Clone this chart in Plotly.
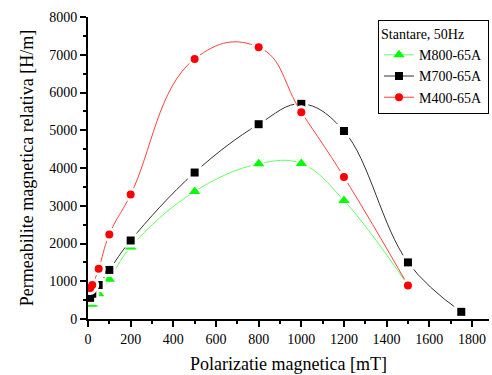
import plotly.graph_objects as go

# Polarization [mT] and relative permeability for three lamination grades
j_m800 = [10, 20, 50, 100, 200, 500, 800, 1000, 1200, 1500]
mu_m800 = [400, 400, 670, 1050, 1910, 3380, 4110, 4120, 3140, 890]

j_m700 = [10, 20, 50, 100, 200, 500, 800, 1000, 1200, 1500, 1750]
mu_m700 = [560, 670, 900, 1300, 2080, 3880, 5160, 5700, 4980, 1500, 190]

j_m400 = [10, 20, 50, 100, 200, 500, 800, 1000, 1200, 1500]
mu_m400 = [820, 900, 1330, 2240, 3300, 6890, 7200, 5480, 3760, 890]

series = [
    ("M800-65A", j_m800, mu_m800, "#00ff00", "#66ff66", "triangle-up", 10, 1.1),
    ("M700-65A", j_m700, mu_m700, "#000000", "#333333", "square", 8, 1.1),
    ("M400-65A", j_m400, mu_m400, "#ff0000", "#ff4040", "circle", 8, 1.3),
]

FONT = "Liberation Serif, Times New Roman, serif"

fig = go.Figure()

for name, xs, ys, col, lcol, sym, size, smooth in series:
    # smooth connecting curve
    fig.add_trace(go.Scatter(
        x=xs, y=ys, mode="lines",
        line=dict(color=lcol, width=1, shape="spline", smoothing=smooth),
        showlegend=False, hoverinfo="skip"))
    # white halo leaves a small gap between curve and symbol
    fig.add_trace(go.Scatter(
        x=xs, y=ys, mode="markers",
        marker=dict(color="white", size=size + 6, symbol=sym),
        showlegend=False, hoverinfo="skip"))
    fig.add_trace(go.Scatter(
        x=xs, y=ys, mode="markers", name=name,
        marker=dict(color=col, size=size, symbol=sym),
        showlegend=False))

# legend entries showing both line and symbol
for name, xs, ys, col, lcol, sym, size, smooth in series:
    fig.add_trace(go.Scatter(
        x=[None], y=[None], mode="lines+markers", name=name,
        line=dict(color=lcol, width=1),
        marker=dict(color=col, size=size, symbol=sym)))

axis_common = dict(
    showline=True, linecolor="black", linewidth=2,
    ticks="outside", ticklen=6, tickwidth=1.5, tickcolor="black",
    showgrid=False, zeroline=False,
    tickfont=dict(family=FONT, size=14, color="black"),
)

fig.update_xaxes(
    range=[0, 1880], tick0=0, dtick=200,
    minor=dict(ticks="outside", ticklen=3, tickcolor="black", dtick=100, tick0=0),
    title=dict(text="Polarizatie magnetica [mT]", font=dict(family=FONT, size=18, color="black"),
               standoff=12),
    **axis_common)
fig.update_yaxes(
    range=[0, 8000], tick0=0, dtick=1000,
    minor=dict(ticks="outside", ticklen=3, tickcolor="black", dtick=500, tick0=0),
    title=dict(text="Permeabilite magnetica relativa [H/m]",
               font=dict(family=FONT, size=18, color="black"), standoff=11),
    **axis_common)

fig.update_layout(
    width=492, height=375,
    margin=dict(l=88, r=3, t=17, b=56),
    plot_bgcolor="white", paper_bgcolor="white",
    font=dict(family=FONT, color="black"),
    legend=dict(
        title=dict(text="Stantare, 50Hz", font=dict(family=FONT, size=14, color="black")),
        font=dict(family=FONT, size=14, color="black"),
        x=1.0, y=0.99, xanchor="right", yanchor="top",
        bgcolor="white", bordercolor="black", borderwidth=1,
        itemwidth=30, tracegroupgap=0,
    ),
)

fig.write_html("out.html")
